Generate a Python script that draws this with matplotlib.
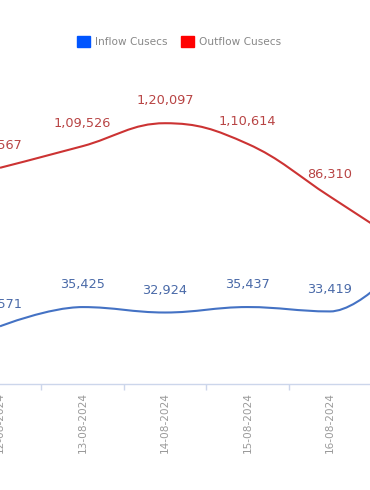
import numpy as np
import matplotlib
matplotlib.use("Agg")
import matplotlib.pyplot as plt
from matplotlib.path import Path
from matplotlib.patches import PathPatch, Patch

dates = ['12-08-2024', '13-08-2024', '14-08-2024', '15-08-2024', '16-08-2024', '17-08-2024']
inflow = [26571, 35425, 32924, 35437, 33419, 61000]
outflow = [99567, 109526, 120097, 110614, 86310, 61500]

inflow_line = '#4472c4'
inflow_text = '#4a6aa8'
outflow_line = '#cc3333'
outflow_text = '#b84444'


def fmt_indian(v):
    s = str(int(v))
    if len(s) <= 3:
        return s
    head, tail = s[:-3], s[-3:]
    parts = []
    while len(head) > 2:
        parts.insert(0, head[-2:])
        head = head[:-2]
    if head:
        parts.insert(0, head)
    return ','.join(parts) + ',' + tail


def spline_path(xs, ys, smoothing=1.5):
    # highcharts style bezier spline through the points
    n = len(xs)
    left = [(xs[i], ys[i]) for i in range(n)]
    right = [(xs[i], ys[i]) for i in range(n)]
    denom = smoothing + 1
    for i in range(1, n - 1):
        lx, ly = xs[i - 1], ys[i - 1]
        nx, ny = xs[i + 1], ys[i + 1]
        px, py = xs[i], ys[i]
        lcx = (smoothing * px + lx) / denom
        lcy = (smoothing * py + ly) / denom
        rcx = (smoothing * px + nx) / denom
        rcy = (smoothing * py + ny) / denom
        if rcx != lcx:
            corr = (rcy - lcy) * (rcx - px) / (rcx - lcx) + py - rcy
            lcy += corr
            rcy += corr
        if lcy > max(ly, py):
            lcy = max(ly, py)
            rcy = 2 * py - lcy
        elif lcy < min(ly, py):
            lcy = min(ly, py)
            rcy = 2 * py - lcy
        if rcy > max(ny, py):
            rcy = max(ny, py)
            lcy = 2 * py - rcy
        elif rcy < min(ny, py):
            rcy = min(ny, py)
            lcy = 2 * py - rcy
        left[i] = (lcx, lcy)
        right[i] = (rcx, rcy)
    verts = [(xs[0], ys[0])]
    codes = [Path.MOVETO]
    for i in range(1, n):
        verts += [right[i - 1], left[i], (xs[i], ys[i])]
        codes += [Path.CURVE4] * 3
    return Path(verts, codes)


W, H = 370, 490
fig = plt.figure(figsize=(W / 100, H / 100), dpi=100)
step = 82.5
x0 = 0.0
ax = fig.add_axes([(x0 - step / 2) / W, (H - 384) / H, step * len(dates) / W, 304 / H])
ax.set_xlim(-0.5, len(dates) - 0.5)
ax.set_ylim(0, 140000)

xs = np.arange(len(dates))
for vals, lc, tc in [(outflow, outflow_line, outflow_text), (inflow, inflow_line, inflow_text)]:
    ax.add_patch(PathPatch(spline_path(list(xs), list(vals)), facecolor='none',
                           edgecolor=lc, lw=1.5, clip_on=False))
    for x, v in zip(xs, vals):
        ax.annotate(fmt_indian(v), (x, v), xytext=(0, 16), textcoords='offset points',
                    ha='center', va='center', fontsize=9.3, color=tc, annotation_clip=False)

for s in ['top', 'left', 'right']:
    ax.spines[s].set_visible(False)
ax.spines['bottom'].set_color('#ccd6eb')
ax.spines['bottom'].set_linewidth(1)
ax.set_yticks([])
ax.set_xticks(xs)
ax.set_xticklabels(dates, rotation=90, fontsize=7.6, color='#9a9a9a')
ax.tick_params(axis='x', which='major', length=0, pad=6)
ax.set_xticks(np.arange(len(dates) + 1) - 0.5, minor=True)
ax.tick_params(axis='x', which='minor', length=4.5, color='#ccd6eb', width=1)

handles = [Patch(facecolor='#0055ff', edgecolor='#0055ff', label='Inflow Cusecs'),
           Patch(facecolor='#ff0000', edgecolor='#ff0000', label='Outflow Cusecs')]
fig.legend(handles=handles, loc='center', bbox_to_anchor=(0.483, 0.915), ncol=2,
           frameon=False, fontsize=7.6, labelcolor='#888888', handlelength=1.3,
           handleheight=1.3, handletextpad=0.4, columnspacing=1.3)

fig.savefig('out.png', dpi=100)
